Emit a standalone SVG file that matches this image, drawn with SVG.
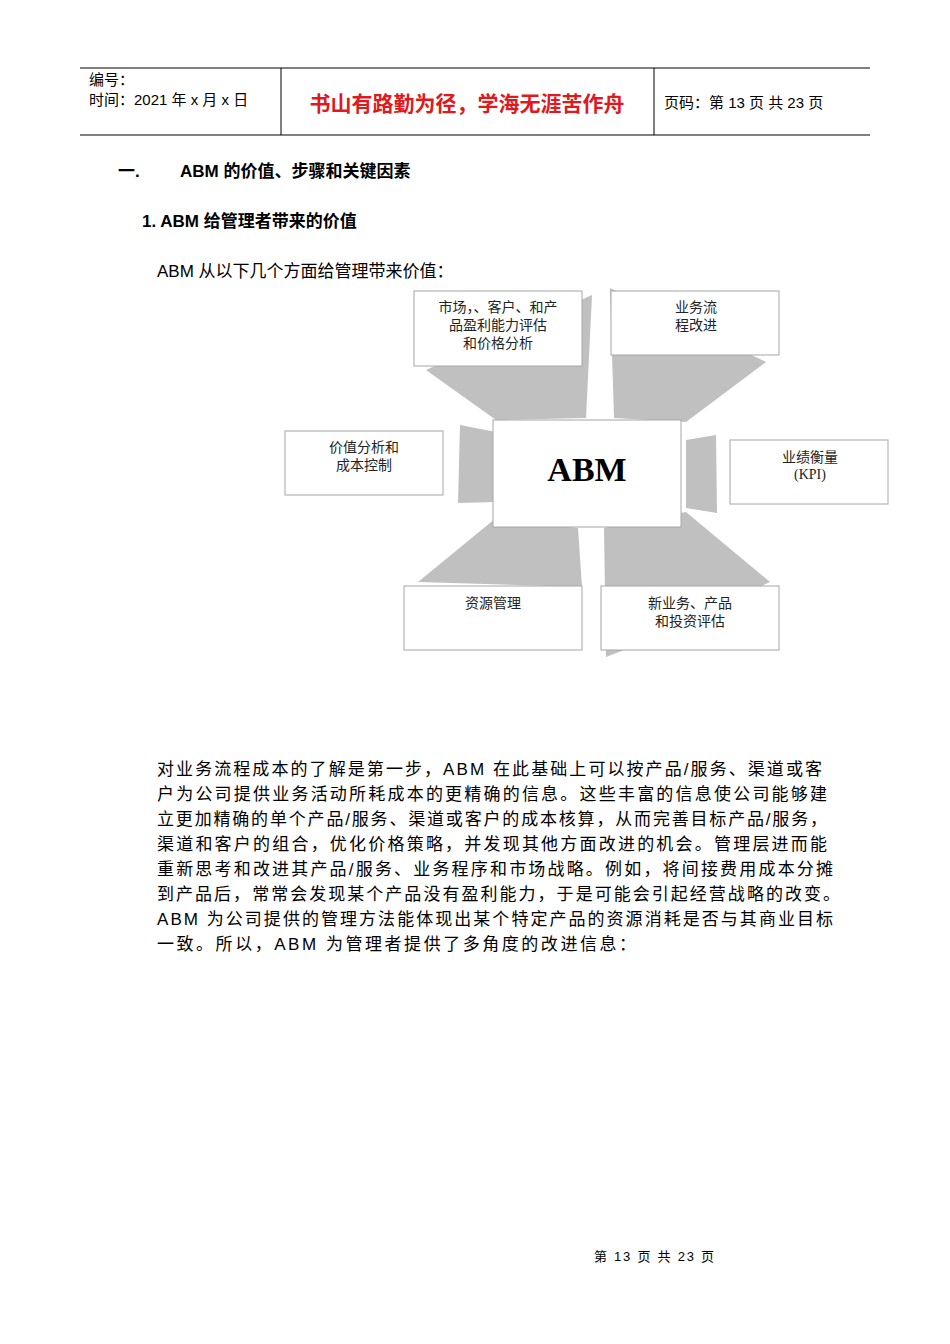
<svg xmlns="http://www.w3.org/2000/svg" width="950" height="1344" viewBox="0 0 950 1344">
<style>
.t{font-family:"Liberation Sans","Noto Sans CJK SC",sans-serif;fill:#000}
.s{font-family:"Liberation Serif","Noto Sans CJK SC",serif;fill:#222;font-size:14px;text-anchor:middle}
.box{fill:#fff;stroke:#a6a6a6;stroke-width:1}
.g{fill:#c0c0c0}
.l{stroke:#000;stroke-width:1}
</style>
<rect width="950" height="1344" fill="#fff"/>
<g id="header">
<line class="l" x1="80" y1="68" x2="870" y2="68"/>
<line class="l" x1="80" y1="135" x2="870" y2="135"/>
<line class="l" x1="281" y1="68" x2="281" y2="135"/>
<line class="l" x1="654" y1="68" x2="654" y2="135"/>
<text class="t" x="89" y="85" font-size="15">编号：</text>
<text class="t" x="89" y="105" font-size="15">时间：2021 年 x 月 x 日</text>
<text class="t" x="467" y="111" font-size="21" style="fill:#e0191f;font-weight:bold" text-anchor="middle">书山有路勤为径，学海无涯苦作舟</text>
<text class="t" x="664" y="108" font-size="15">页码：第 13 页  共 23 页</text>
</g>
<text class="t" x="118" y="177" font-size="17" font-weight="bold">一.</text>
<text class="t" x="180" y="177" font-size="17" font-weight="bold">ABM 的价值、步骤和关键因素</text>
<text class="t" x="142" y="227" font-size="17" font-weight="bold">1. ABM 给管理者带来的价值</text>
<text class="t" x="157" y="277" font-size="17">ABM 从以下几个方面给管理带来价值：</text>
<g id="connectors">
<polygon class="g" points="592,295 586,418 496,420 426,370"/>
<polygon class="g" points="610,288 766,362 686,422 614,418"/>
<polygon class="g" points="460,425 496,432 496,502 458,503"/>
<polygon class="g" points="686,440 716,435 717,513 686,508"/>
<polygon class="g" points="496,518 578,528 582,587 418,582"/>
<polygon class="g" points="604,528 686,512 770,582 624,650 606,657"/>
</g>
<g id="n1"><rect class="box" x="414" y="291" width="168" height="75"/>
<text class="s"><tspan x="498" y="312">市场，、客户、和产</tspan><tspan x="498" y="330">品盈利能力评估</tspan><tspan x="498" y="348">和价格分析</tspan></text></g>
<g id="n2"><rect class="box" x="611" y="291" width="168" height="64"/>
<text class="s"><tspan x="696" y="312">业务流</tspan><tspan x="696" y="330">程改进</tspan></text></g>
<g id="n3"><rect class="box" x="285" y="431" width="158" height="64"/>
<text class="s"><tspan x="364" y="452">价值分析和</tspan><tspan x="364" y="470">成本控制</tspan></text></g>
<g id="abm"><rect class="box" x="493" y="420" width="188" height="107"/>
<text x="587" y="481" text-anchor="middle" font-family="Liberation Serif,serif" font-weight="bold" font-size="34">ABM</text></g>
<g id="n4"><rect class="box" x="730" y="440" width="158" height="64"/>
<text class="s"><tspan x="810" y="462">业绩衡量</tspan><tspan x="810" y="479">(KPI)</tspan></text></g>
<g id="n5"><rect class="box" x="404" y="586" width="178" height="64"/>
<text class="s"><tspan x="493" y="608">资源管理</tspan></text></g>
<g id="n6"><rect class="box" x="601" y="586" width="178" height="64"/>
<text class="s"><tspan x="690" y="608">新业务、产品</tspan><tspan x="690" y="626">和投资评估</tspan></text></g>
<g class="t" font-size="17">
<text x="157" y="775" textLength="665" lengthAdjust="spacing">对业务流程成本的了解是第一步，ABM 在此基础上可以按产品/服务、渠道或客</text>
<text x="157" y="800" textLength="670" lengthAdjust="spacing">户为公司提供业务活动所耗成本的更精确的信息。这些丰富的信息使公司能够建</text>
<text x="157" y="825" textLength="670" lengthAdjust="spacing">立更加精确的单个产品/服务、渠道或客户的成本核算，从而完善目标产品/服务，</text>
<text x="157" y="850" textLength="670" lengthAdjust="spacing">渠道和客户的组合，优化价格策略，并发现其他方面改进的机会。管理层进而能</text>
<text x="157" y="875" textLength="676" lengthAdjust="spacing">重新思考和改进其产品/服务、业务程序和市场战略。例如，将间接费用成本分摊</text>
<text x="157" y="900" textLength="683" lengthAdjust="spacing">到产品后，常常会发现某个产品没有盈利能力，于是可能会引起经营战略的改变。</text>
<text x="157" y="925" textLength="676" lengthAdjust="spacing">ABM 为公司提供的管理方法能体现出某个特定产品的资源消耗是否与其商业目标</text>
<text x="157" y="950" textLength="479" lengthAdjust="spacing">一致。所以，ABM 为管理者提供了多角度的改进信息：</text>
</g>
<text class="t" x="594" y="1261" font-size="13" textLength="120" lengthAdjust="spacing">第  13  页  共  23  页</text>
</svg>
